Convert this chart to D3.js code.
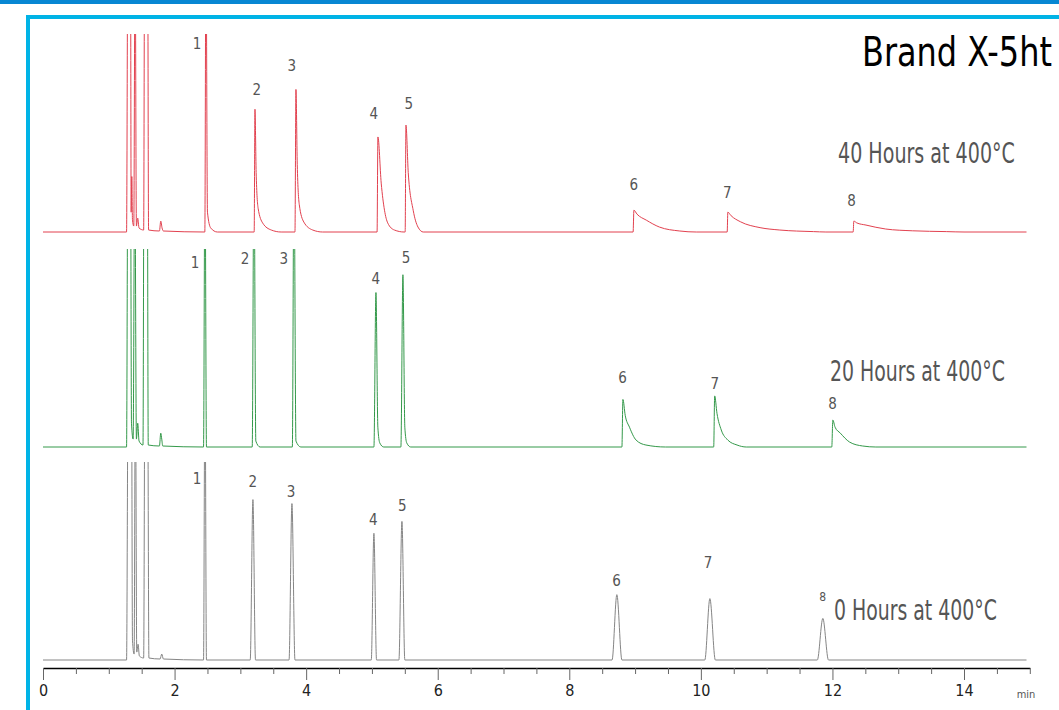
<!DOCTYPE html>
<html>
<head>
<meta charset="utf-8">
<script src="https://cdn.jsdelivr.net/npm/d3@7"></script>
<style>
  body { margin: 0; background: #fff; }
  svg { display: block; }
  text { font-family: "Liberation Sans Narrow", "Arial Narrow", "DejaVu Sans Condensed", sans-serif; }
</style>
</head>
<body>
<svg id="chart"></svg>
<script>
// chromatogram traces, [time (min), signal]; 100 = top of each panel
const fortyHours = [
    [0, 0], [1.27, 0], [1.29, 150], [1.33, 150], [1.34, 10], [1.35, 28], [1.36, 6], [1.38, 3],
    [1.40, 150], [1.42, 3], [1.44, 7], [1.46, 2], [1.53, 1], [1.545, 150], [1.59, 150], [1.605, 1],
    [1.77, 0.5], [1.79, 5.5], [1.81, 2], [1.83, 0.5],
    [2.46, 0], [2.477, 150], [2.50, 10], [2.55, 2], [2.65, 0],
    [3.21, 0], [3.222, 62], [3.24, 30], [3.27, 12], [3.34, 4.5], [3.47, 1], [3.62, 0],
    [3.83, 0], [3.845, 72], [3.865, 34], [3.895, 14], [3.965, 5], [4.10, 1], [4.25, 0],
    [5.078, 0], [5.091, 48], [5.141, 24.7], [5.191, 11], [5.241, 4.5], [5.341, 1], [5.49, 0],
    [5.505, 0], [5.517, 54], [5.552, 30], [5.627, 11], [5.70, 2.5], [5.78, 0],
    [8.97, 0], [8.982, 11], [9.03, 9], [9.17, 6], [9.37, 2.5], [9.68, 0.5], [9.93, 0],
    [10.40, 0], [10.41, 10], [10.46, 8.2], [10.60, 5.2], [10.90, 2.2], [11.20, 1], [11.71, 0.2], [11.9, 0],
    [12.315, 0], [12.325, 5.5], [12.37, 4.6], [12.51, 3.5], [12.81, 1.5], [13.22, 0.6], [13.73, 0.2], [14.0, 0],
    [14.95, 0]
];

const twentyHours = [
    [0, 0], [1.27, 0], [1.29, 150], [1.33, 150], [1.345, 12], [1.37, 4], [1.395, 150], [1.42, 4],
    [1.44, 12], [1.46, 3], [1.52, 1], [1.535, 150], [1.585, 150], [1.60, 1],
    [1.77, 0.5], [1.79, 7], [1.805, 4], [1.82, 0.5],
    [2.44, 0], [2.462, 150], [2.485, 0],
    [3.18, 0], [3.207, 150], [3.235, 3], [3.30, 0],
    [3.79, 0], [3.815, 150], [3.845, 3], [3.92, 0],
    [5.03, 0], [5.061, 78], [5.09, 10], [5.12, 2], [5.18, 0],
    [5.44, 0], [5.471, 87], [5.50, 10], [5.53, 2], [5.59, 0],
    [8.80, 0], [8.815, 24], [8.85, 16], [8.915, 10], [9.015, 3.5], [9.165, 1], [9.465, 0],
    [10.195, 0], [10.21, 25.8], [10.245, 17], [10.31, 8.6], [10.41, 3.5], [10.55, 1], [10.69, 0],
    [11.99, 0], [12.006, 13.6], [12.04, 10], [12.12, 7], [12.26, 2.5], [12.46, 0.5], [12.66, 0],
    [14.95, 0]
];

const zeroHours = [
    [0, 0], [1.27, 0], [1.295, 150], [1.345, 150], [1.36, 10], [1.385, 3], [1.405, 150], [1.425, 4],
    [1.445, 8], [1.465, 2], [1.53, 1], [1.55, 150], [1.59, 150], [1.61, 1],
    [1.78, 0.5], [1.805, 3], [1.83, 0.5],
    [2.44, 0], [2.462, 150], [2.485, 0],
    [3.15, 0], [3.191, 81], [3.23, 0],
    [3.74, 0], [3.784, 79], [3.83, 0],
    [4.99, 0], [5.030, 64], [5.07, 0],
    [5.41, 0], [5.456, 70], [5.50, 0],
    [8.65, 0], [8.723, 33], [8.80, 0],
    [10.06, 0], [10.137, 31], [10.22, 0],
    [11.77, 0], [11.854, 21], [11.94, 0],
    [14.95, 0]
];

// peak numbers, [label, time, signal]
const fortyLabels = [
    ['1', 2.34, 95], ['2', 3.25, 72], ['3', 3.78, 84], ['4', 5.03, 60],
    ['5', 5.56, 65], ['6', 8.98, 24], ['7', 10.40, 20], ['8', 12.29, 16]
];
const twentyLabels = [
    ['1', 2.31, 93], ['2', 3.07, 95], ['3', 3.66, 95], ['4', 5.06, 85],
    ['5', 5.52, 95.5], ['6', 8.81, 35], ['7', 10.21, 32], ['8', 12.0, 22]
];
const zeroLabels = [
    ['1', 2.34, 91.4], ['2', 3.19, 90], ['3', 3.77, 85], ['4', 5.02, 71],
    ['5', 5.46, 78], ['6', 8.72, 40], ['7', 10.11, 49], ['8', 11.85, 32]
];

const captions = ['40 Hours at 400°C', '20 Hours at 400°C', '0 Hours at 400°C'];
const majorTicks = [0, 2, 4, 6, 8, 10, 12, 14];
const title = 'Brand X-5ht';

const width = 1059, height = 710;
const panelHeight = 198;

const panels = [
    { points: fortyHours, labels: fortyLabels, caption: captions[0], color: '#e2414f',
      base: 232, capX: 838, capY: 163, capW: 177 },
    { points: twentyHours, labels: twentyLabels, caption: captions[1], color: '#34994a',
      base: 447, capX: 830, capY: 381, capW: 175 },
    { points: zeroHours, labels: zeroLabels, caption: captions[2], color: '#858585',
      base: 660, capX: 834, capY: 620, capW: 163 }
];

const svg = d3.select('#chart')
    .attr('width', width)
    .attr('height', height);

// squeeze a text horizontally to a given width, keeping its height
function fitText(sel, left, baseline, targetWidth) {
    const len = sel.node().getComputedTextLength();
    const k = targetWidth / len;
    sel.attr('transform', `translate(${left},${baseline}) scale(${k},1)`);
}

// frame
svg.append('rect')
    .attr('x', 0).attr('y', 0)
    .attr('width', width).attr('height', 4)
    .attr('fill', '#0787d3');

svg.append('path')
    .attr('d', `M28,${height}V17H${width}`)
    .attr('fill', 'none')
    .attr('stroke', '#00b3e6')
    .attr('stroke-width', 4);

const x = d3.scaleLinear()
    .domain([0, 15])
    .range([43, 1029.8]);

const defs = svg.append('defs');

panels.forEach((p, i) => {
    const y = d3.scaleLinear()
        .domain([0, 100])
        .range([p.base, p.base - panelHeight]);

    defs.append('clipPath')
        .attr('id', `clip${i}`)
        .append('rect')
        .attr('x', 0)
        .attr('y', p.base - panelHeight)
        .attr('width', width)
        .attr('height', panelHeight + 6);

    const line = d3.line()
        .x(d => x(d[0]))
        .y(d => y(d[1]))
        .curve(d3.curveMonotoneX);

    svg.append('path')
        .datum(p.points)
        .attr('clip-path', `url(#clip${i})`)
        .attr('d', line)
        .attr('fill', 'none')
        .attr('stroke', p.color)
        .attr('stroke-width', 1);

    svg.append('g')
        .selectAll('text')
        .data(p.labels)
        .join('text')
        .attr('x', d => x(d[1]))
        .attr('y', d => y(d[2]))
        .attr('dy', '0.36em')
        .attr('text-anchor', 'middle')
        .attr('font-size', (d) => (i === 2 && d[0] === '8') ? 12 : 15)
        .attr('fill', '#555')
        .text(d => d[0]);

    const cap = svg.append('text')
        .attr('font-size', 29)
        .attr('fill', '#555')
        .text(p.caption);
    fitText(cap, p.capX, p.capY, p.capW);
});

const titleText = svg.append('text')
    .attr('font-size', 40)
    .attr('fill', '#000')
    .text(title);
fitText(titleText, 862, 66, 190);

// x axis
const axisY = 668;
const minorTicks = d3.range(0, 15.01, 0.5).filter(v => v % 2 !== 0);

const minorG = svg.append('g')
    .attr('transform', `translate(0,${axisY})`)
    .call(d3.axisBottom(x).tickValues(minorTicks).tickSize(6).tickSizeOuter(0).tickFormat(''));

const majorG = svg.append('g')
    .attr('transform', `translate(0,${axisY})`)
    .call(d3.axisBottom(x).tickValues(majorTicks).tickSize(12).tickSizeOuter(0).tickPadding(5));

majorG.select('.domain').remove();
minorG.select('.domain').attr('stroke', '#000').attr('stroke-width', 1.3);
svg.selectAll('.tick line').attr('stroke', '#666');
majorG.selectAll('.tick text')
    .attr('font-size', 16)
    .attr('font-family', '"Liberation Sans Narrow", "Arial Narrow", "DejaVu Sans Condensed", sans-serif')
    .attr('fill', '#222');

svg.append('text')
    .attr('x', 1026)
    .attr('y', 698)
    .attr('text-anchor', 'middle')
    .attr('font-size', 11)
    .attr('fill', '#555')
    .text('min');
</script>
</body>
</html>
